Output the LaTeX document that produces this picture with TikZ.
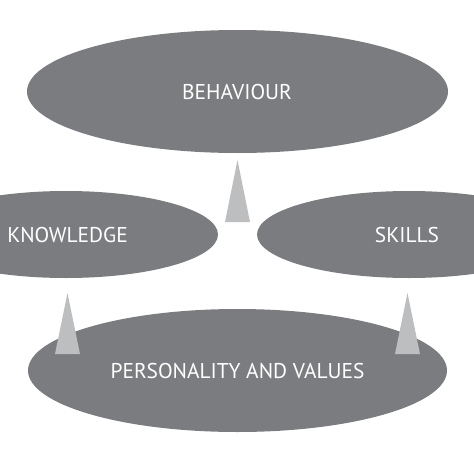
\documentclass[tikz,border=0pt]{standalone}
\usepackage{fontspec}
\setmainfont{PT Sans}
\usetikzlibrary{shapes.geometric}
\definecolor{ellgray}{RGB}{123,124,128}
\definecolor{trigray}{RGB}{188,190,192}
\tikzset{
  oval/.style={ellipse, fill=ellgray, draw=none, inner sep=0pt},
  lbl/.style={text=white, font=\fontsize{21.4}{25}\selectfont},
  tri/.style={fill=trigray, draw=none}
}
\begin{document}
\begin{tikzpicture}[x=1pt,y=-1pt]
\useasboundingbox (0,0) rectangle (474,474);
\clip (0,0) rectangle (474,474);
\node[oval, minimum width=421, minimum height=123] (beh) at (237.5,91.5) {};
\node[oval, minimum width=304, minimum height=87] (know) at (66,234.5) {};
\node[oval, minimum width=304, minimum height=87] (skill) at (409,234.5) {};
\node[oval, minimum width=419, minimum height=123] (pers) at (237.5,370.5) {};
\node[lbl] (behT) at (237,92) {BEHAVIOUR};
\node[lbl] (knowT) at (67.5,235.3) {KNOWLEDGE};
\node[lbl] (skillT) at (407,235.3) {SKILLS};
\node[lbl] (persT) at (237.5,371) {PERSONALITY AND VALUES};
\coordinate (t1) at (237.5,160);
\coordinate (t2) at (67.5,293);
\coordinate (t3) at (407.5,293);
\fill[tri] (t1) -- ++(12.5,62) -- ++(-25,0) -- cycle;
\fill[tri] (t2) -- ++(12.5,61) -- ++(-25,0) -- cycle;
\fill[tri] (t3) -- ++(12.5,61) -- ++(-25,0) -- cycle;
\end{tikzpicture}
\end{document}
